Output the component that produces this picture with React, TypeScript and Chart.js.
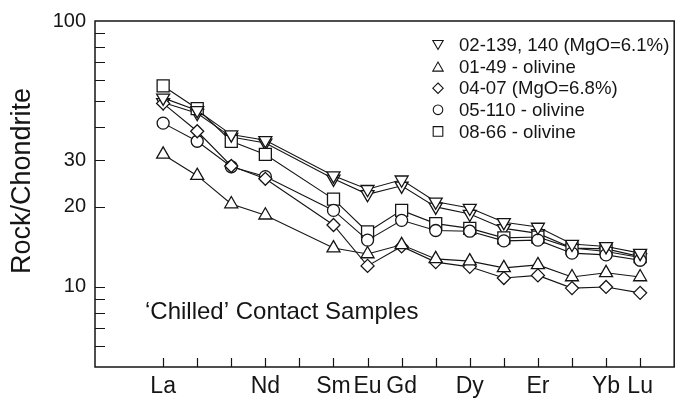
import React, { useEffect, useRef } from 'react';
import { Chart, registerables } from 'chart.js';

Chart.register(...registerables);

// ---- data ----
const ELEMENTS = ['La', 'Ce', 'Pr', 'Nd', 'Pm', 'Sm', 'Eu', 'Gd', 'Tb', 'Dy', 'Ho', 'Er', 'Tm', 'Yb', 'Lu'];
const LABELED = ['La', 'Nd', 'Sm', 'Eu', 'Gd', 'Dy', 'Er', 'Yb', 'Lu'];
const Y_LABEL_TICKS = [10, 20, 30, 100];
const Y_MARK_TICKS = [6, 7, 8, 9, 10, 20, 30, 40, 50, 60, 70, 80, 90];

const S02_139 = [51.4, 46.1, 37.4, 35.6, null, 26.2, 23.3, 25.3, 20.9, 19.8, 17.5, 16.8, 14.5, 14.2, 13.4];
const S02_140 = [49.4, 45.0, 36.6, 34.8, null, 25.5, 22.3, 24.0, 20.0, 18.8, 16.6, 15.9, 14.0, 13.6, 12.9];
const S01_49 = [31.5, 26.2, 20.5, 18.6, null, 14.0, 13.3, 14.4, 12.75, 12.5, 11.8, 12.1, 10.9, 11.3, 10.9];
const S04_07 = [49.0, 38.5, 28.5, 25.5, null, 17.1, 12.0, 14.2, 12.4, 11.9, 10.8, 11.05, 9.9, 10.0, 9.5];
const S05_110 = [41.3, 35.3, 28.3, 26.0, null, 19.4, 15.0, 17.8, 16.3, 16.2, 14.9, 15.0, 13.4, 13.2, 12.6];
const S08_66 = [57.0, 46.8, 35.3, 31.5, null, 21.4, 16.1, 19.4, 17.3, 16.6, 15.3, 15.4, 14.0, 13.9, 13.0];

const LEGEND_LABELS = ['02-139, 140 (MgO=6.1%)', '01-49 - olivine', '04-07 (MgO=6.8%)', '05-110 - olivine', '08-66 - olivine'];
const Y_TITLE = 'Rock/Chondrite';
const NOTE = '\u2018Chilled\u2019 Contact Samples';

const FONT = '"Liberation Sans", Arial, Helvetica, sans-serif';
const INK = '#151515';

type Sym = { style: string; rot: number; r: number };
const SYMS: Sym[] = [
  { style: 'triangle', rot: 180, r: 7.5 },
  { style: 'triangle', rot: 0, r: 7.5 },
  { style: 'rectRot', rot: 0, r: 6.5 },
  { style: 'circle', rot: 0, r: 6 },
  { style: 'rect', rot: 0, r: 8.5 },
];

function drawSymbol(ctx: CanvasRenderingContext2D, style: string, x: number, y: number, r: number, rot: number) {
  ctx.beginPath();
  if (style === 'triangle') {
    const s = rot ? -1 : 1;
    ctx.moveTo(x, y - s * r);
    ctx.lineTo(x + 0.866 * r, y + (s * r) / 2);
    ctx.lineTo(x - 0.866 * r, y + (s * r) / 2);
    ctx.closePath();
  } else if (style === 'rectRot') {
    ctx.moveTo(x, y - r);
    ctx.lineTo(x + r, y);
    ctx.lineTo(x, y + r);
    ctx.lineTo(x - r, y);
    ctx.closePath();
  } else if (style === 'circle') {
    ctx.arc(x, y, r, 0, Math.PI * 2);
  } else {
    const h = r * Math.SQRT1_2;
    ctx.rect(x - h, y - h, 2 * h, 2 * h);
  }
  ctx.fill();
  ctx.stroke();
}

const toPoints = (vals: (number | null)[]) => vals.map((v, i) => ({ x: i, y: v }));

const decorPlugin = {
  id: 'decor',
  afterDraw(chart: any) {
    const ctx: CanvasRenderingContext2D = chart.ctx;
    const { left, right, top, bottom } = chart.chartArea;
    const xs = chart.scales.x;
    const ys = chart.scales.y;
    ctx.save();
    ctx.strokeStyle = INK;
    ctx.lineWidth = 1.5;
    ctx.strokeRect(left, top, right - left, bottom - top);
    ctx.lineWidth = 1.2;
    ctx.beginPath();
    Y_MARK_TICKS.forEach((v) => {
      const y = Math.round(ys.getPixelForValue(v)) + 0.5;
      ctx.moveTo(left, y);
      ctx.lineTo(left + 10, y);
    });
    ELEMENTS.forEach((_, i) => {
      const x = Math.round(xs.getPixelForValue(i)) + 0.5;
      ctx.moveTo(x, bottom);
      ctx.lineTo(x, bottom - 9);
    });
    ctx.stroke();

    // legend
    ctx.fillStyle = INK;
    ctx.font = `18.6px ${FONT}`;
    ctx.textBaseline = 'middle';
    ctx.textAlign = 'left';
    LEGEND_LABELS.forEach((lab, i) => {
      const y = 45 + i * 21.6;
      const s = SYMS[i];
      ctx.fillStyle = '#fff';
      ctx.strokeStyle = INK;
      ctx.lineWidth = 1.1;
      drawSymbol(ctx, s.style, 438, y + (s.style === 'triangle' ? (s.rot ? -1.5 : 1.5) : 0), s.r * 0.8, s.rot);
      ctx.fillStyle = INK;
      ctx.fillText(lab, 459, y + 1);
    });

    // note
    ctx.font = `24px ${FONT}`;
    ctx.textBaseline = 'alphabetic';
    ctx.fillText(NOTE, 145, 319);

    // y title
    ctx.font = `27px ${FONT}`;
    ctx.translate(23, 181);
    ctx.rotate(-Math.PI / 2);
    ctx.textAlign = 'center';
    ctx.textBaseline = 'middle';
    ctx.fillText(Y_TITLE, 0, 0);
    ctx.restore();
  },
};

export default function App() {
  const ref = useRef<HTMLCanvasElement | null>(null);
  useEffect(() => {
    if (!ref.current) return;
    const series = [S02_139, S01_49, S04_07, S05_110, S08_66, S02_140];
    const symIdx = [0, 1, 2, 3, 4, 0];
    const names = [...LEGEND_LABELS, LEGEND_LABELS[0]];
    const chart = new Chart(ref.current, {
      type: 'line',
      data: {
        datasets: series.map((vals, k) => {
          const s = SYMS[symIdx[k]];
          return {
            label: names[k],
            data: toPoints(vals) as any,
            borderColor: INK,
            borderWidth: 1.1,
            backgroundColor: '#ffffff',
            pointStyle: s.style as any,
            pointRotation: s.rot,
            pointRadius: s.r,
            pointBorderWidth: 1.3,
            pointBorderColor: INK,
            pointBackgroundColor: '#ffffff',
            spanGaps: true,
            tension: 0,
            fill: false,
          };
        }),
      },
      options: {
        responsive: false,
        animation: false,
        events: [],
        layout: { padding: { top: 17, right: 8, left: 0, bottom: 0 } },
        plugins: { legend: { display: false }, tooltip: { enabled: false } },
        scales: {
          x: {
            type: 'linear',
            min: -2,
            max: 15,
            grid: { display: false, drawTicks: false },
            border: { display: false },
            afterBuildTicks: (s: any) => {
              s.ticks = ELEMENTS.map((_, i) => ({ value: i }));
            },
            afterFit: (s: any) => {
              s.height = 34;
            },
            ticks: {
              autoSkip: false,
              maxRotation: 0,
              padding: 6,
              color: INK,
              font: { size: 23, family: FONT },
              callback: (v: any) => {
                const e = ELEMENTS[Number(v)];
                return LABELED.includes(e) ? e : '';
              },
            },
          },
          y: {
            type: 'logarithmic',
            min: 5,
            max: 100,
            grid: { display: false, drawTicks: false },
            border: { display: false },
            afterBuildTicks: (s: any) => {
              s.ticks = Y_LABEL_TICKS.map((v) => ({ value: v }));
            },
            afterFit: (s: any) => {
              s.width = 95;
            },
            ticks: {
              padding: 9,
              color: INK,
              font: { size: 20, family: FONT },
              callback: (v: any) => String(v),
            },
          },
        },
      },
      plugins: [decorPlugin],
    });
    return () => chart.destroy();
  }, []);
  return (
    <div style={{ position: 'fixed', left: 0, top: 0, width: 684, height: 401, background: '#fff' }}>
      <canvas ref={ref} width={684} height={401} style={{ display: 'block' }} />
    </div>
  );
}
